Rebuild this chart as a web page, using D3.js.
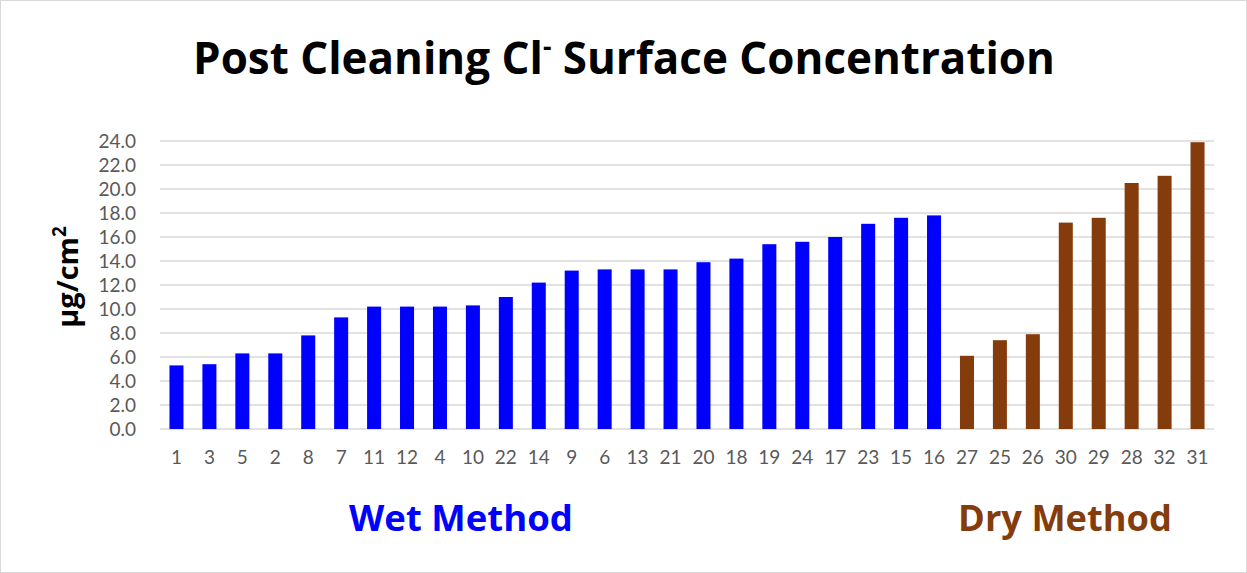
<!DOCTYPE html>
<html>
<head>
<meta charset="utf-8">
<script src="https://cdn.jsdelivr.net/npm/d3@7"></script>
<style>
  body { margin: 0; background: #fff; }
  svg { display: block; font-family: Lato, "Open Sans", sans-serif; }
</style>
</head>
<body>
<div class="chart_container"></div>
<script>
// sample ids, in plotted order
const wetSamples = ["1", "3", "5", "2", "8", "7", "11", "12", "4", "10", "22", "14", "9", "6", "13", "21", "20", "18", "19", "24", "17", "23", "15", "16"];
const drySamples = ["27", "25", "26", "30", "29", "28", "32", "31"];

// µg/cm2
const wetValues = [5.3, 5.4, 6.3, 6.3, 7.8, 9.3, 10.2, 10.2, 10.2, 10.3, 11.0, 12.2, 13.2, 13.3, 13.3, 13.3, 13.9, 14.2, 15.4, 15.6, 16.0, 17.1, 17.6, 17.8];
const dryValues = [6.1, 7.4, 7.9, 17.2, 17.6, 20.5, 21.1, 23.9];

const yTicks = [0, 2, 4, 6, 8, 10, 12, 14, 16, 18, 20, 22, 24];

const WET_COLOR = "#0000ff";
const DRY_COLOR = "#843c0c";

//^ DIMENSIONS //
const W = 1247, H = 573;
const plotLeft = 160, plotRight = 1214, plotTop = 141, plotBottom = 429;

const rows = wetSamples.map((s, i) => ({ id: s, value: wetValues[i], group: "wet" }))
  .concat(drySamples.map((s, i) => ({ id: s, value: dryValues[i], group: "dry" })));

const svg = d3.select(".chart_container").append("svg")
  .attr("width", W).attr("height", H);

// chart area border
svg.append("rect")
  .attr("x", 0.5).attr("y", 0.5).attr("width", W - 1).attr("height", H - 1)
  .attr("fill", "#fff").attr("stroke", "#d9d9d9");

//^ SCALES //
const gap = 1.35; // excel gap width
const x = d3.scaleBand()
  .domain(rows.map(d => d.id))
  .range([plotLeft, plotRight])
  .paddingInner(gap / (1 + gap))
  .paddingOuter(gap / (1 + gap) / 2);

const y = d3.scaleLinear().domain([0, 24]).range([plotBottom, plotTop]);

//^ GRIDLINES //
svg.append("g").selectAll("line")
  .data(yTicks)
  .join("line")
  .attr("x1", plotLeft).attr("x2", plotRight)
  .attr("y1", d => y(d)).attr("y2", d => y(d))
  .attr("stroke", "#d9d9d9").attr("stroke-width", 1.5);

//^ Y AXIS //
const yAxis = d3.axisLeft(y).tickValues(yTicks).tickFormat(d3.format(".1f")).tickSize(0).tickPadding(24);
const yg = svg.append("g").attr("transform", `translate(${plotLeft},0)`).call(yAxis);
yg.select(".domain").remove();
yg.selectAll("text").attr("fill", "#595959").style("font-size", "19px").style("font-family", "Lato, sans-serif");

//^ X AXIS //
const xAxis = d3.axisBottom(x).tickSize(0).tickPadding(22);
const xg = svg.append("g").attr("transform", `translate(0,${plotBottom})`).call(xAxis);
xg.select(".domain").remove();
xg.selectAll("text").attr("fill", "#595959").style("font-size", "19px").style("font-family", "Lato, sans-serif");

//^ BARS //
svg.append("g").selectAll("rect")
  .data(rows)
  .join("rect")
  .attr("x", d => x(d.id))
  .attr("width", x.bandwidth())
  .attr("y", d => y(d.value))
  .attr("height", d => y(0) - y(d.value))
  .attr("fill", d => d.group === "wet" ? WET_COLOR : DRY_COLOR);

// fit a text node to a target width by scaling its font size
function fitWidth(sel, target) {
  const base = parseFloat(sel.style("font-size"));
  const w = sel.node().getBBox().width;
  sel.style("font-size", (base * target / w) + "px");
}

//^ TITLE //
const title = svg.append("text")
  .attr("x", 624).attr("y", 74)
  .attr("text-anchor", "middle")
  .style("font-family", "'Open Sans', sans-serif")
  .style("font-weight", 700)
  .style("font-size", "46px")
  .attr("fill", "#000");
title.append("tspan").text("Post Cleaning Cl");
title.append("tspan").attr("dy", -18).style("font-size", "0.6em").text("-");
title.append("tspan").attr("dy", 18).text(" Surface Concentration");
fitWidth(title, 862);

//^ Y LABEL //
const yLabel = svg.append("text")
  .attr("transform", "translate(78,277) rotate(-90)")
  .attr("text-anchor", "middle")
  .style("font-family", "'Open Sans', sans-serif")
  .style("font-weight", 700)
  .style("font-size", "29px")
  .attr("fill", "#000");
yLabel.append("tspan").text("µg/cm");
yLabel.append("tspan").attr("dy", -12).style("font-size", "0.65em").text("2");

//^ GROUP LABELS //
const groupLabels = [
  { text: "Wet Method", cx: 461, width: 224, color: WET_COLOR },
  { text: "Dry Method", cx: 1065, width: 214, color: DRY_COLOR }
];
groupLabels.forEach(g => {
  const t = svg.append("text")
    .attr("x", g.cx).attr("y", 531)
    .attr("text-anchor", "middle")
    .style("font-family", "'Open Sans', sans-serif")
    .style("font-weight", 700)
    .style("font-size", "34px")
    .attr("fill", g.color)
    .text(g.text);
  fitWidth(t, g.width);
});
</script>
</body>
</html>
